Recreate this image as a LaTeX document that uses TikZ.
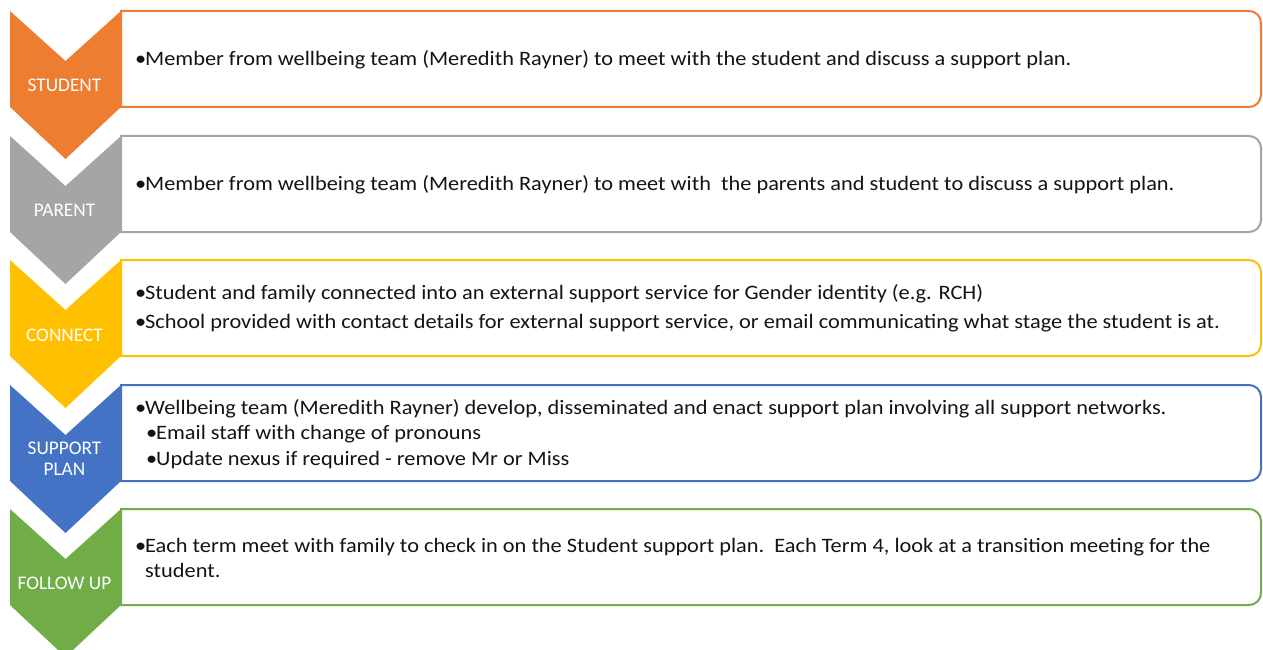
\documentclass[tikz,border=0pt]{standalone}
\usepackage{fontspec}
\setmainfont{Carlito}
\newfontfamily\bodyfont[FakeStretch=1.09]{Carlito}
\definecolor{corange}{HTML}{ED7D31}
\definecolor{cgray}{HTML}{A5A5A5}
\definecolor{cyellow}{HTML}{FFC000}
\definecolor{cblue}{HTML}{4472C4}
\definecolor{cgreen}{HTML}{70AD47}
\definecolor{ctext}{HTML}{141414}
\newcommand{\bodysize}{\bodyfont\fontsize{20.5}{24}\selectfont}
\newcommand{\labsize}{\fontsize{19.3}{22}\selectfont}
\newcommand{\bul}{\makebox[10pt][l]{\textbullet}}
\begin{document}
\begin{tikzpicture}[x=1pt,y=-1pt,
  stepbox/.style={draw=#1, line width=2pt, fill=white},
  lab/.style={text=white, font=\labsize, inner sep=0pt, anchor=base, align=center},
  line/.style={text=ctext, font=\bodysize, inner sep=0pt, anchor=base west}]
\useasboundingbox (0,0) rectangle (1263,650);
% boxes
\foreach \t/\c in {11/corange,136/cgray,260/cyellow,385/cblue,509/cgreen}{
  \draw[stepbox=\c] (121,\t) [rounded corners=12] -- (1261,\t) -- (1261,\t+96) [sharp corners] -- (121,\t+96) -- cycle;
}
% chevrons
\foreach \t/\c in {11/corange,136/cgray,260/cyellow,385/cblue,509/cgreen}{
  \fill[\c] (10,\t) -- (65.5,\t+50) -- (121,\t) -- (121,\t+96) -- (65.5,\t+148) -- (10,\t+96) -- cycle;
}
% labels
\node[lab] (lstudent) at (64.5,92) {STUDENT};
\node[lab] (lparent) at (64.5,216) {PARENT};
\node[lab] (lconnect) at (64.5,341) {CONNECT};
\node[lab] (lsupport) at (64.5,454) {SUPPORT};
\node[lab] (lplan) at (64.5,475) {PLAN};
\node[lab] (lfollow) at (64.5,589) {FOLLOW UP};
% texts
\node[line] (t1) at (135,66) {\bul Member from wellbeing team (Meredith Rayner) to meet with the student and discuss a support plan.};
\node[line] (t2) at (135,190) {\bul Member from wellbeing team (Meredith Rayner) to meet with\ \ the parents and student to discuss a support plan.};
\node[line] (t3a) at (135,299) {\bul Student and family connected into an external support service for Gender identity (e.g. RCH)};
\node[line] (t3b) at (135,328) {\bul School provided with contact details for external support service, or email communicating what stage the student is at.};
\node[line] (t4a) at (135,414) {\bul Wellbeing team (Meredith Rayner) develop, disseminated and enact support plan involving all support networks.};
\node[line] (t4b) at (146,439) {\bul Email staff with change of pronouns};
\node[line] (t4c) at (146,465) {\bul Update nexus if required - remove Mr or Miss};
\node[line] (t5a) at (135,552) {\bul Each term meet with family to check in on the Student support plan.\ \ Each Term 4, look at a transition meeting for the};
\node[line] (t5b) at (145,577) {student.};
\end{tikzpicture}
\end{document}
